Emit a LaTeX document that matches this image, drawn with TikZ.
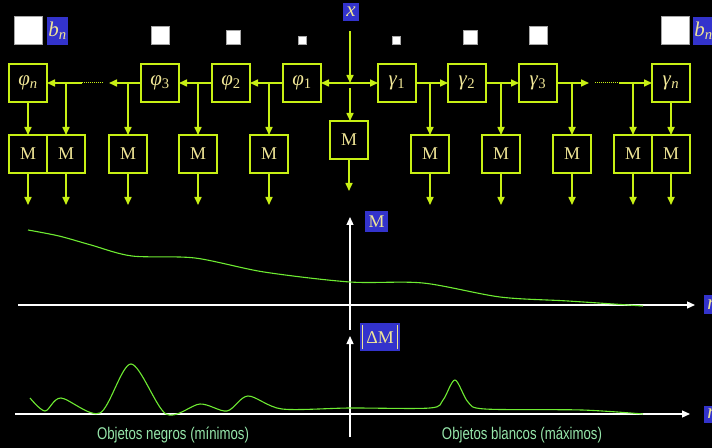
\documentclass[tikz,border=0pt]{standalone}
\usepackage{fontspec}
\setmainfont{Liberation Serif}
\newfontfamily\captionfont{Liberation Sans}
\usetikzlibrary{arrows.meta,positioning,calc}
\definecolor{boxLime}{RGB}{200,240,20}
\definecolor{labelBlue}{RGB}{51,51,204}
\definecolor{textKhaki}{RGB}{240,230,150}
\definecolor{curveGreen}{RGB}{110,235,50}
\definecolor{captionMint}{RGB}{150,230,170}
\newcommand{\gsub}[2]{\textit{#1}\textsubscript{#2}}
\newcommand{\absbar}{\rule[-6pt]{0.8pt}{25pt}}

\begin{document}
\begin{tikzpicture}[
x=1bp, y=-1bp,
morph/.style={draw=boxLime, line width=1.2bp, minimum size=38bp, inner sep=0pt, outer sep=0pt, text=textKhaki, font=\fontsize{18}{20}\selectfont},
filt/.style={morph, font=\fontsize{21}{24}\selectfont},
tag/.style={fill=labelBlue, text=textKhaki, inner sep=0pt, font=\fontsize{18}{20}\selectfont},
mtag/.style={tag, font=\fontsize{21}{24}\selectfont},
sq/.style={fill=white, draw=gray!70, line width=0.6bp, inner sep=0pt, anchor=south},
arrow/.style={-{Triangle[length=8bp,width=7bp]}, draw=boxLime, fill=boxLime, line width=1.6bp},
dots/.style={draw=boxLime, line width=1bp, densely dotted},
axisline/.style={-{Triangle[length=8bp,width=7bp]}, white, line width=1.2bp},
trace/.style={curveGreen, line width=1.1bp},
caption/.style={text=captionMint, font=\captionfont\fontsize{17}{19}\selectfont, xscale=0.78}
]
\fill[black] (0,0) rectangle (712,448);
\useasboundingbox (0,0) rectangle (712,448);
\clip (0,0) rectangle (712,448);

% structuring elements
\node[sq, minimum size=28bp] (sqn) at (28,45) {};
\node[mtag, minimum width=21bp, minimum height=28bp] (bl) at (57.5,31) {\gsub{b}{\textit{n}}};
\node[sq, minimum size=18bp] (sq3) at (160.5,45) {};
\node[sq, minimum size=14bp] (sq2) at (233.5,45) {};
\node[sq, minimum size=8bp] (sq1) at (302,45) {};
\node[sq, minimum size=8bp] (sr1) at (396.5,45) {};
\node[sq, minimum size=14bp] (sr2) at (470,45) {};
\node[sq, minimum size=18bp] (sr3) at (538,45) {};
\node[sq, minimum size=28bp] (srn) at (675.5,45) {};
\node[mtag, minimum width=21bp, minimum height=28bp] (br) at (703.5,31) {\gsub{b}{\textit{n}}};

\node[mtag, minimum width=16bp, minimum height=18bp] (x) at (351,12) {\textit{x}};

\node[filt] (pn) at (28,83) {\gsub{φ}{\textit{n}}};
\node[filt] (p3) at (160,83) {\gsub{φ}{3}};
\node[filt] (p2) at (231,83) {\gsub{φ}{2}};
\node[filt] (p1) at (302,83) {\gsub{φ}{1}};
\node[filt] (g1) at (397,83) {\gsub{γ}{1}};
\node[filt] (g2) at (467,83) {\gsub{γ}{2}};
\node[filt] (g3) at (538,83) {\gsub{γ}{3}};
\node[filt] (gn) at (671,83) {\gsub{γ}{\textit{n}}};

\node[morph] (mn) at (28,154) {M};
\node[morph, right=0pt of mn] (mnb) {M};
\node[morph] (m3) at (128,154) {M};
\node[morph] (m2) at (198,154) {M};
\node[morph] (m1) at (269,154) {M};
\node[morph] (mc) at (349,140) {M};
\node[morph] (mg1) at (430,154) {M};
\node[morph] (mg2) at (501,154) {M};
\node[morph] (mg3) at (572,154) {M};
\node[morph] (mgn) at (671,154) {M};
\node[morph, left=0pt of mgn] (mgnb) {M};

\coordinate (jc) at (350,83);
\coordinate (tl) at (109,83);
\coordinate (dl1) at (103,83);
\coordinate (dl2) at (82,83);
\coordinate (tr) at (589,83);
\coordinate (dr1) at (595,83);
\coordinate (dr2) at (619,83);
\coordinate (outrow) at (0,205);
\coordinate (outc) at (349,191);

\draw[arrow, shorten <=10bp] (jc |- x.south) -- (jc);
\draw[arrow] (jc) -- (p1.east);
\draw[arrow] (jc) -- (g1.west);
\draw[arrow, shorten <=5bp] (jc) -- (jc |- mc.north);

\draw[arrow] (p1.west) -- (p2.east);
\draw[arrow] (m1 |- p1.west) -- (m1.north);
\draw[arrow] (p2.west) -- (p3.east);
\draw[arrow] (m2 |- p2.west) -- (m2.north);
\draw[arrow] (p3.west) -- (tl);
\draw[arrow] (m3 |- p3.west) -- (m3.north);
\draw[dots] (dl1) -- (dl2);
\draw[arrow] (dl2) -- (pn.east);
\draw[arrow] (mnb |- dl2) -- (mnb.north);
\draw[arrow] (pn) -- (mn);

\draw[arrow] (g1.east) -- (g2.west);
\draw[arrow] (mg1 |- g1.east) -- (mg1.north);
\draw[arrow] (g2.east) -- (g3.west);
\draw[arrow] (mg2 |- g2.east) -- (mg2.north);
\draw[arrow] (g3.east) -- (tr);
\draw[arrow] (mg3 |- g3.east) -- (mg3.north);
\draw[dots] (dr1) -- (dr2);
\draw[arrow] (dr2) -- (gn.west);
\draw[arrow] (mgnb |- dr2) -- (mgnb.north);
\draw[arrow] (gn) -- (mgn);

\foreach \m in {mn,mnb,m3,m2,m1,mg1,mg2,mg3,mgnb,mgn}
  \draw[arrow] (\m.south) -- (\m.south |- outrow);
\draw[arrow] (mc.south) -- (outc);

% graphs
\coordinate (ax1l) at (18,305);
\coordinate (ax1r) at (695,305);
\coordinate (ay1b) at (350,330);
\coordinate (ay1t) at (350,217);
\coordinate (ax2l) at (15,414);
\coordinate (ax2r) at (690,414);
\coordinate (ay2b) at (350,437);
\coordinate (ay2t) at (350,336);

\draw[axisline] (ax1l) -- (ax1r);
\draw[axisline] (ay1b) -- (ay1t);
\draw[axisline] (ax2l) -- (ax2r);
\draw[axisline] (ay2b) -- (ay2t);

\node[tag, minimum width=23bp, minimum height=21bp] (lm) at (376.5,221.5) {M};
\node[tag, minimum width=40bp, minimum height=28bp] (ldm) at (380,337) {\absbar\,ΔM\,\absbar};
\node[mtag, anchor=west, minimum width=17bp, minimum height=19bp] (ln1) at (704,305) {\textit{n}};
\node[mtag, anchor=west, minimum width=17bp, minimum height=17bp] (ln2) at (704,414) {\textit{n}};

\draw[trace] plot[smooth] coordinates {(28,230) (59,236) (91,245) (132,256) (195,258) (264,272) (350,282) (423,283) (500,297) (568,301) (643,306)};
\draw[trace] plot[smooth] coordinates {(30,398) (45,411) (61,398) (100,413) (131,364) (166,414) (200,404) (227,411) (248,396) (282,409) (350,408) (430,408) (443,400) (455,380) (468,402) (485,409) (582,410) (643,414)};

\node[caption] (cneg) at (173,435) {Objetos negros (mínimos)};
\node[caption] (cbla) at (522,435) {Objetos blancos (máximos)};
\end{tikzpicture}
\end{document}
